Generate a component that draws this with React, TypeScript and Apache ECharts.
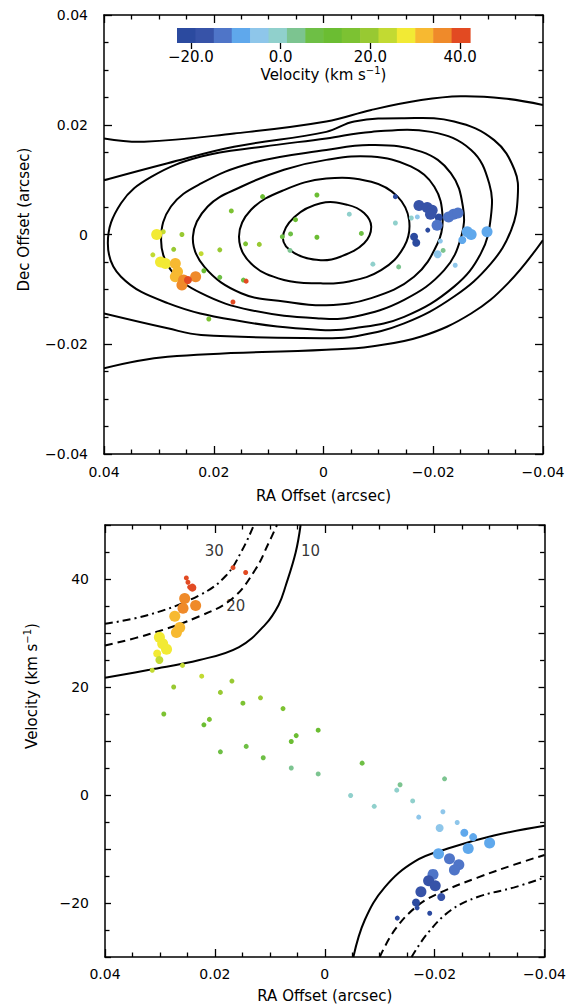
import React, { useEffect, useRef } from "react";
import * as echarts from "echarts";

// ---------- colour scale (velocity bins, km/s) ----------
const velEdges = [-23.1, -19.0, -14.9, -10.9, -6.8, -2.7, 1.4, 5.5, 9.5, 13.6, 17.7, 21.8, 25.9, 30.0, 34.0, 38.1, 42.2];
const binColors = [
  "#2b4a9f", "#3753a8", "#4f75c8", "#5fa8ec", "#8ec6ea", "#90d0cc", "#7cc490", "#6ebf45",
  "#6bbd32", "#7cc232", "#98c932", "#c2da32", "#f2ea34", "#f7b931", "#ef8a2a", "#e24a22",
];
const colorbarTicks = [-20, 0, 20, 40];

// ---------- top panel: intensity contours (RA, Dec in arcsec) ----------
// closed contours (listed once around, without repeating the first point)
const contour1 = [[0.0005,0.0057],[-0.0044,0.0054],[-0.0074,0.0039],[-0.0087,0.0014],[-0.0074,-0.0016],[-0.0032,-0.0040],[0.0005,-0.0047],[0.0053,-0.0034],[0.0074,-0.0007],[0.0053,0.0032]];
const contour2 = [[-0.0005,0.0102],[-0.0087,0.0096],[-0.0135,0.0069],[-0.0156,0.0026],[-0.0147,-0.0022],[-0.0105,-0.0065],[-0.0044,-0.0086],[0.0005,-0.0089],[0.0072,-0.0083],[0.0132,-0.0053],[0.0154,-0.0004],[0.0132,0.0045],[0.0072,0.0081]];
const contour3 = [[-0.0005,0.0136],[-0.0087,0.0142],[-0.0159,0.0124],[-0.0202,0.0087],[-0.0217,0.0032],[-0.0208,-0.0016],[-0.0165,-0.0077],[-0.0087,-0.0116],[-0.0005,-0.0129],[0.0072,-0.0122],[0.0150,-0.0107],[0.0217,-0.0059],[0.0238,-0.0004],[0.0211,0.0051],[0.0150,0.0087],[0.0072,0.0118]];
const contour4 = [[-0.0005,0.0154],[-0.0087,0.0163],[-0.0178,0.0151],[-0.0232,0.0112],[-0.0254,0.0051],[-0.0251,-0.0004],[-0.0220,-0.0065],[-0.0147,-0.0119],[-0.0056,-0.0150],[0.0005,-0.0153],[0.0132,-0.0138],[0.0223,-0.0107],[0.0278,-0.0065],[0.0296,-0.0010],[0.0278,0.0051],[0.0223,0.0093],[0.0132,0.0130]];
const contour5 = [[-0.0005,0.0175],[-0.0087,0.0187],[-0.0196,0.0187],[-0.0269,0.0154],[-0.0302,0.0093],[-0.0305,0.0032],[-0.0287,-0.0034],[-0.0238,-0.0095],[-0.0147,-0.0150],[-0.0056,-0.0171],[0.0005,-0.0174],[0.0163,-0.0156],[0.0284,-0.0125],[0.0369,-0.0077],[0.0393,-0.0016],[0.0369,0.0057],[0.0314,0.0105],[0.0223,0.0142],[0.0111,0.0160]];
// open contours (leave the frame)
const contour6 = [[0.0400,0.0099],[0.0284,0.0130],[0.0163,0.0160],[-0.0005,0.0187],[-0.0056,0.0206],[-0.0147,0.0212],[-0.0238,0.0206],[-0.0311,0.0172],[-0.0348,0.0118],[-0.0354,0.0069],[-0.0342,0.0008],[-0.0305,-0.0053],[-0.0238,-0.0113],[-0.0147,-0.0162],[-0.0056,-0.0186],[-0.0005,-0.0189],[0.0223,-0.0183],[0.0284,-0.0171],[0.0400,-0.0144]];
const contour7Top = [[0.0400,0.0175],[0.0327,0.0169],[0.0163,0.0184],[-0.0005,0.0206],[-0.0087,0.0227],[-0.0178,0.0245],[-0.0250,0.0252],[-0.0329,0.0248],[-0.0400,0.0236]];
const contour7Bottom = [[0.0400,-0.0244],[0.0284,-0.0223],[-0.0005,-0.0210],[-0.0087,-0.0204],[-0.0178,-0.0186],[-0.0269,-0.0144],[-0.0336,-0.0089],[-0.0400,-0.0010]];

// ---------- top panel: maser spots [RA, Dec, velocity, flux class] ----------
const spotsTop = [
  [0.0111,0.0069,12,1],[0.0012,0.0072,12,1],[0.0168,0.0043,17,1],[0.0051,0.0027,10,1],[0.0060,0.0001,9,1],
  [0.0075,-0.0004,8,1],[0.0012,-0.0005,10,1],[0.0142,-0.0017,17,1],[0.0117,-0.0018,18,1],[0.0061,-0.0029,5,1],
  [0.0258,0.0000,20,1],[0.0292,0.0005,24,1],[0.0273,-0.0027,20,1],[0.0311,-0.0037,23,1],[0.0223,-0.0035,22,1],
  [0.0189,-0.0028,19,1],[0.0218,-0.0066,13,1],[0.0189,-0.0078,8,1],[0.0146,-0.0083,9,1],[0.0141,-0.0085,41,1],
  [0.0165,-0.0123,42,1],[0.0209,-0.0154,14,1],
  [0.0304,0.0000,28,3],[0.0297,-0.0050,28,3],[0.0288,-0.0053,27,3],[0.0270,-0.0053,31,3],[0.0266,-0.0068,32,3],
  [0.0270,-0.0077,33,3],[0.0255,-0.0083,35,3],[0.0258,-0.0092,36,3],[0.0233,-0.0077,37,3],[0.0247,-0.0083,40,2],
  [-0.0131,0.0069,-22,1],[-0.0174,0.0053,-18,3],[-0.0189,0.0049,-16,3],[-0.0198,0.0044,-17,3],[-0.0195,0.0037,-15.5,3],
  [-0.0210,0.0031,-20,2],[-0.0207,0.0017,-12,3],[-0.0228,0.0032,-12,3],[-0.0237,0.0037,-13,3],[-0.0245,0.0039,-13,3],
  [-0.0190,0.0008,-22,1],[-0.0165,-0.0004,-20,2],[-0.0169,-0.0015,-21,2],[-0.0171,0.0032,-4,1],[-0.0160,0.0030,0,1],
  [-0.0131,0.0021,1,1],[-0.0047,0.0037,0,1],[-0.0069,0.0002,6,1],[-0.0090,-0.0054,-1,1],[-0.0137,-0.0059,2,1],
  [-0.0213,-0.0012,-3,1],[-0.0218,-0.0029,3,1],[-0.0208,-0.0036,-6,2],[-0.0240,-0.0056,-5,1],[-0.0262,0.0005,-9,3],
  [-0.0269,0.0000,-8,3],[-0.0253,-0.0010,-7,2],[-0.0298,0.0005,-9,3],
];

// ---------- bottom panel: position-velocity spots [RA, velocity, flux class] ----------
const spotsPV = [
  [0.0252,40.2,1],[0.0249,39.4,1],[0.0246,38.5,1],[0.0241,38.4,2],[0.0167,42.1,1],[0.0144,41.2,1],
  [0.0255,36.4,3],[0.0258,34.6,3],[0.0235,35.1,3],[0.0273,33.1,3],[0.0264,31.0,3],[0.0270,30.1,3],
  [0.0301,29.2,3],[0.0295,28.0,3],[0.0288,27.0,3],[0.0305,26.2,2],[0.0301,25.0,2],[0.0314,23.1,1],
  [0.0259,24.0,1],[0.0224,22.0,1],[0.0169,21.1,1],[0.0275,20.0,1],[0.0190,19.0,1],[0.0149,17.0,1],
  [0.0117,18.0,1],[0.0076,16.0,1],[0.0293,15.0,1],[0.0220,13.0,1],[0.0210,14.0,1],[0.0190,8.0,1],
  [0.0143,9.0,1],[0.0112,6.9,1],[0.0061,9.9,1],[0.0052,11.0,1],[0.0012,12.0,1],[0.0061,5.0,1],
  [0.0012,3.9,1],[-0.0068,5.9,1],[-0.0047,-0.1,1],[-0.0090,-2.1,1],[-0.0131,0.9,1],[-0.0137,1.9,1],
  [-0.0160,-1.1,1],[-0.0218,3.0,1],[-0.0171,-4.1,1],[-0.0215,-3.1,1],[-0.0209,-6.1,2],[-0.0241,-5.1,1],
  [-0.0254,-7.0,2],[-0.0270,-7.8,2],[-0.0300,-8.9,3],[-0.0261,-9.9,3],[-0.0207,-10.9,3],[-0.0227,-11.8,3],
  [-0.0244,-12.9,3],[-0.0236,-13.9,3],[-0.0197,-14.7,3],[-0.0189,-15.9,3],[-0.0201,-16.8,3],[-0.0175,-17.9,3],
  [-0.0212,-18.9,2],[-0.0166,-19.9,2],[-0.0168,-20.9,1],[-0.0191,-21.9,1],[-0.0132,-22.8,1],
];

// ---------- bottom panel: model curves (RA, velocity) ----------
const curve10Upper = [[0.0400,21.7],[0.0319,23.2],[0.0228,25.0],[0.0156,27.4],[0.0108,31.6],[0.0084,35.2],[0.0071,38.8],[0.0053,44.9],[0.0044,50.0]];
const curve10Lower = [[-0.0052,-30.0],[-0.0073,-23.1],[-0.0109,-17.1],[-0.0164,-12.3],[-0.0224,-9.9],[-0.0308,-7.5],[-0.0400,-5.7]];
const curve20Upper = [[0.0400,27.7],[0.0319,29.8],[0.0228,33.1],[0.0168,36.4],[0.0126,41.8],[0.0102,46.7],[0.0087,50.0]];
const curve20Lower = [[-0.0100,-30.0],[-0.0128,-24.9],[-0.0170,-20.4],[-0.0212,-18.0],[-0.0278,-15.3],[-0.0345,-12.9],[-0.0400,-11.1]];
const curve30Upper = [[0.0400,31.7],[0.0319,33.4],[0.0228,37.0],[0.0180,40.6],[0.0150,45.4],[0.0129,50.0]];
const curve30Lower = [[-0.0158,-30.0],[-0.0188,-25.5],[-0.0230,-21.3],[-0.0278,-18.9],[-0.0345,-17.1],[-0.0400,-15.3]];
const curveLabels = [
  { name: "10", value: [0.0026, 45.1] },
  { name: "20", value: [0.0162, 35.0] },
  { name: "30", value: [0.0201, 45.1] },
];

const FONT = "DejaVu Sans";
const BLACK = "#000";

const closedContours = [contour1, contour2, contour3, contour4, contour5];
const openContours = [contour6, contour7Top, contour7Bottom];

function colorFor(v: number): string {
  for (let i = 0; i < binColors.length; i++) {
    if (v < velEdges[i + 1]) return binColors[i];
  }
  return binColors[binColors.length - 1];
}
const sizeFor = (c: number) => [0, 5, 8, 11][c];

const minus = (s: string) => s.replace("-", "\u2212");
const fmtOffset = (v: number) => (Math.abs(v) < 1e-9 ? "0" : minus(v.toFixed(2)));

function frameAxis(extra: any) {
  return {
    type: "value",
    axisLine: { show: true, onZero: false, lineStyle: { color: BLACK, width: 1.5 } },
    axisTick: { show: true, inside: true, length: 8, lineStyle: { color: BLACK, width: 1.3 } },
    minorTick: { show: true, splitNumber: 4, length: 4.5, lineStyle: { color: BLACK, width: 1.3 } },
    splitLine: { show: false },
    minorSplitLine: { show: false },
    axisLabel: { show: false },
    ...extra,
  };
}

const labelStyle = { fontFamily: FONT, fontSize: 14, color: BLACK };
const supRich = { sup: { fontFamily: FONT, fontSize: 10, color: BLACK, verticalAlign: "top", lineHeight: 10 } };
const nameStyle = { fontFamily: FONT, fontSize: 15, color: BLACK, lineHeight: 20, rich: supRich };

export default function App() {
  const ref = useRef<HTMLDivElement>(null);
  useEffect(() => {
    if (!ref.current) return;
    const chart = echarts.init(ref.current, undefined, { renderer: "svg" });

    const contourSeries = (list: number[][][], closed: boolean) => ({
      type: "custom",
      xAxisIndex: 0,
      yAxisIndex: 0,
      silent: true,
      clip: true,
      z: 2,
      data: list.map((_, i) => [0, 0, i]),
      encode: { x: 0, y: 1 },
      renderItem: (_params: any, api: any) => {
        const c = list[api.value(2)];
        const pts = c.map((p) => api.coord(p));
        return {
          type: closed ? "polygon" : "polyline",
          shape: { points: pts, smooth: 0.4 },
          style: { fill: "none", stroke: BLACK, lineWidth: 2 },
        };
      },
    });

    const curve = (d: number[][], type: any) => ({
      type: "line",
      xAxisIndex: 2,
      yAxisIndex: 2,
      data: d,
      showSymbol: false,
      smooth: 0.4,
      silent: true,
      lineStyle: { color: BLACK, width: 2, type },
      z: 2,
    });

    const bins = velEdges.slice(0, -1).map((lo, i) => [lo, velEdges[i + 1], i]);

    const option: any = {
      animation: false,
      backgroundColor: "#fff",
      grid: [
        { left: 104, top: 15, width: 439, height: 439 },
        { left: 105, top: 525, width: 443, height: 443 },
        { left: 177, top: 28, width: 293, height: 15 },
      ],
      xAxis: [
        frameAxis({
          gridIndex: 0, min: -0.04, max: 0.04, interval: 0.02, inverse: true, position: "bottom",
          axisLabel: { show: true, formatter: fmtOffset, margin: 11, ...labelStyle },
          name: "RA Offset (arcsec)", nameLocation: "middle", nameGap: 32, nameTextStyle: nameStyle,
        }),
        frameAxis({ gridIndex: 0, min: -0.04, max: 0.04, interval: 0.02, inverse: true, position: "top" }),
        frameAxis({
          gridIndex: 1, min: -0.04, max: 0.04, interval: 0.02, inverse: true, position: "bottom",
          axisLabel: { show: true, formatter: fmtOffset, margin: 10, ...labelStyle },
          name: "RA Offset (arcsec)", nameLocation: "middle", nameGap: 29, nameTextStyle: nameStyle,
        }),
        frameAxis({ gridIndex: 1, min: -0.04, max: 0.04, interval: 0.02, inverse: true, position: "top" }),
        {
          type: "value", gridIndex: 2, min: -23.1, max: 42.2, position: "bottom",
          axisLine: { show: false },
          axisTick: { show: true, customValues: colorbarTicks, inside: false, length: 6, lineStyle: { color: BLACK, width: 1.3 } },
          axisLabel: {
            show: true, customValues: colorbarTicks, margin: 6,
            formatter: (v: number) => minus(v.toFixed(1)), fontFamily: FONT, fontSize: 15, color: BLACK,
          },
          splitLine: { show: false },
          name: "Velocity (km s{sup|\u22121})", nameLocation: "middle", nameGap: 22, nameTextStyle: nameStyle,
        },
      ],
      yAxis: [
        frameAxis({
          gridIndex: 0, min: -0.04, max: 0.04, interval: 0.02, position: "left",
          axisLabel: { show: true, formatter: fmtOffset, margin: 16, ...labelStyle },
          name: "Dec Offset (arcsec)", nameLocation: "middle", nameGap: 63,
          nameTextStyle: { ...nameStyle, padding: [0, 0, 0, 30] },
        }),
        frameAxis({ gridIndex: 0, min: -0.04, max: 0.04, interval: 0.02, position: "right" }),
        frameAxis({
          gridIndex: 1, min: -30, max: 50, interval: 10, position: "left",
          minorTick: { show: true, splitNumber: 2, length: 4.5, lineStyle: { color: BLACK, width: 1.3 } },
          axisTick: { show: true, inside: true, length: 6, lineStyle: { color: BLACK, width: 1.3 } },
          axisLabel: {
            show: true, margin: 16, ...labelStyle,
            formatter: (v: number) => (Math.round(v) % 20 === 0 ? minus(String(Math.round(v))) : ""),
          },
          name: "Velocity (km s{sup|\u22121})", nameLocation: "middle", nameGap: 63,
          nameTextStyle: { ...nameStyle, padding: [0, 0, 0, 110] },
        }),
        frameAxis({
          gridIndex: 1, min: -30, max: 50, interval: 10, position: "right",
          minorTick: { show: true, splitNumber: 2, length: 4.5, lineStyle: { color: BLACK, width: 1.3 } },
          axisTick: { show: true, inside: true, length: 6, lineStyle: { color: BLACK, width: 1.3 } },
        }),
        { type: "value", gridIndex: 2, min: 0, max: 1, show: false },
      ],
      series: [
        contourSeries(closedContours, true),
        contourSeries(openContours, false),
        {
          type: "scatter",
          xAxisIndex: 0,
          yAxisIndex: 0,
          silent: true,
          z: 3,
          data: spotsTop.map((p) => ({
            value: [p[0], p[1]],
            symbolSize: sizeFor(p[3]),
            itemStyle: { color: colorFor(p[2]), opacity: 1 },
          })),
        },
        curve(curve10Upper, "solid"),
        curve(curve10Lower, "solid"),
        curve(curve20Upper, [8, 5]),
        curve(curve20Lower, [8, 5]),
        curve(curve30Upper, [8, 4, 2, 4]),
        curve(curve30Lower, [8, 4, 2, 4]),
        {
          type: "scatter",
          xAxisIndex: 2,
          yAxisIndex: 2,
          silent: true,
          z: 3,
          data: spotsPV.map((p) => ({
            value: [p[0], p[1]],
            symbolSize: sizeFor(p[2]),
            itemStyle: { color: colorFor(p[1]), opacity: 1 },
          })),
        },
        {
          type: "scatter",
          xAxisIndex: 2,
          yAxisIndex: 2,
          silent: true,
          symbolSize: 1,
          itemStyle: { color: "rgba(0,0,0,0)" },
          label: { show: true, position: "inside", formatter: "{b}", fontFamily: FONT, fontSize: 15, color: BLACK },
          data: curveLabels,
          z: 4,
        },
        {
          type: "custom",
          xAxisIndex: 4,
          yAxisIndex: 4,
          silent: true,
          data: bins,
          encode: { x: [0, 1] },
          renderItem: (_params: any, api: any) => {
            const lo = api.value(0);
            const hi = api.value(1);
            const idx = api.value(2);
            const p0 = api.coord([lo, 1]);
            const p1 = api.coord([hi, 0]);
            return {
              type: "rect",
              shape: { x: p0[0], y: p0[1], width: p1[0] - p0[0] + 0.6, height: p1[1] - p0[1] },
              style: { fill: binColors[idx] },
            };
          },
        },
      ],
    };

    chart.setOption(option);
    return () => chart.dispose();
  }, []);

  return (
    <div
      ref={ref}
      style={{ position: "absolute", left: 0, top: 0, width: 569, height: 1007, background: "#fff" }}
    />
  );
}
